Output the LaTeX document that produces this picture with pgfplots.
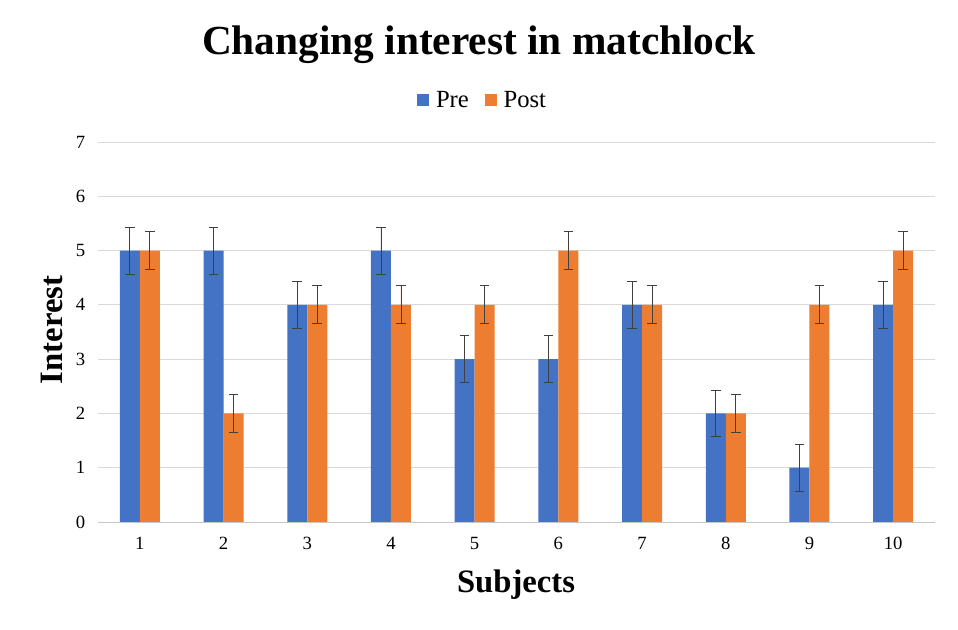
\documentclass[border=0pt]{standalone}
\usepackage{pgfplots}
\pgfplotsset{compat=1.18}
\usepackage{fontspec}
\setmainfont{Liberation Serif}
\definecolor{preblue}{HTML}{4472C4}
\definecolor{postorange}{HTML}{ED7D31}
\definecolor{errgray}{HTML}{404040}
\begin{document}
\begin{tikzpicture}
\useasboundingbox (0pt,0pt) rectangle (718.5pt,472.5pt);
\begin{axis}[
  at={(73.5pt,81pt)}, anchor=south west,
  scale only axis, width=627.75pt, height=285pt,
  ybar=0pt, bar width=15pt,
  ymin=0, ymax=7, xmin=0.5, xmax=10.5,
  xtick={1,...,10}, ytick={0,...,7},
  ymajorgrids, grid style={draw=gray!30, line width=0.6pt},
  axis x line*=bottom, axis y line*=left,
  x axis line style={draw=gray!45, line width=0.6pt, -},
  y axis line style={draw=none},
  major tick length=0pt,
  tick label style={font=\fontsize{14}{16}\selectfont},
  /pgf/number format/assume math mode=true,
  yticklabel style={xshift=-6pt},
  xticklabel style={yshift=-8pt},
  legend style={at={(0.46,1.11)}, anchor=center, legend columns=2, draw=none,
    font=\fontsize{18.5}{22}\selectfont,
    /tikz/every odd column/.append style={column sep=3pt},
    /tikz/every even column/.append style={column sep=10pt}},
  legend image code/.code={\fill[#1] (0pt,-4.5pt) rectangle (9pt,4.5pt);},
  error bars/y dir=both, error bars/y explicit,
  error bars/error bar style={draw=errgray, line width=0.6pt},
  error bars/error mark options={rotate=90, draw=errgray, mark size=3.6pt, line width=0.6pt},
]
\addplot[fill=preblue, draw=none] coordinates {
  (1,5) +- (0,0.43)
  (2,5) +- (0,0.43)
  (3,4) +- (0,0.43)
  (4,5) +- (0,0.43)
  (5,3) +- (0,0.43)
  (6,3) +- (0,0.43)
  (7,4) +- (0,0.43)
  (8,2) +- (0,0.43)
  (9,1) +- (0,0.43)
  (10,4) +- (0,0.43)
};
\addplot[fill=postorange, draw=none] coordinates {
  (1,5) +- (0,0.35)
  (2,2) +- (0,0.35)
  (3,4) +- (0,0.35)
  (4,4) +- (0,0.35)
  (5,4) +- (0,0.35)
  (6,5) +- (0,0.35)
  (7,4) +- (0,0.35)
  (8,2) +- (0,0.35)
  (9,4) +- (0,0.35)
  (10,5) +- (0,0.35)
};
\legend{Pre, Post}
\end{axis}
\node[font=\bfseries\fontsize{31}{36}\selectfont] at (359.25pt,439pt) {Changing interest in matchlock};
\node[font=\bfseries\fontsize{24.5}{29}\selectfont] at (387pt,33.75pt) {Subjects};
\node[font=\bfseries\fontsize{24.5}{29}\selectfont, rotate=90] at (39pt,225pt) {Interest};
\end{tikzpicture}
\end{document}
